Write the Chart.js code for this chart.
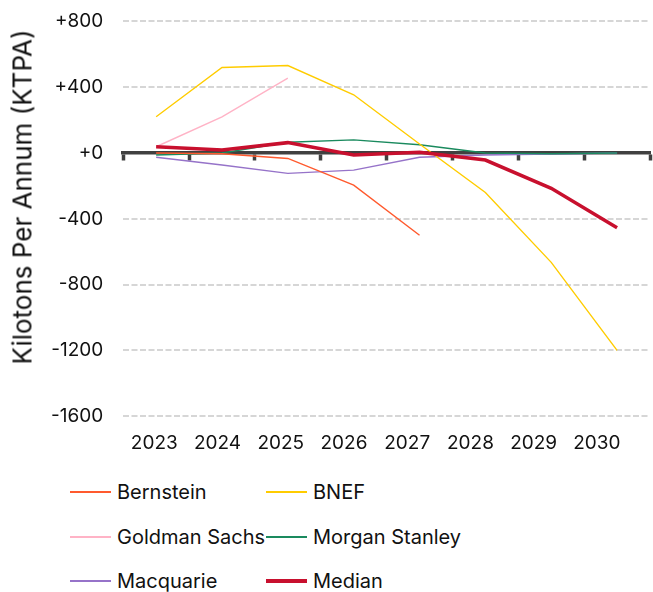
<!DOCTYPE html>
<html>
<head>
<meta charset="utf-8">
<script src="https://cdn.jsdelivr.net/npm/chart.js@4"></script>
<style>
  body { margin: 0; background: #fff; overflow: hidden; font-family: "Inter", sans-serif; }
  #wrap { position: relative; width: 653px; height: 592px; overflow: hidden; }
  #box { position: absolute; left: 0; top: -10px; width: 653px; height: 473px; }
  #ytitle {
    position: absolute; left: 22px; top: 197px;
    transform: translate(-50%, -50%) rotate(-90deg);
    font-size: 26px; color: #111; white-space: nowrap;
  }
  #legend { position: absolute; left: 70px; top: 480px; }
  .item { position: absolute; display: flex; align-items: center; white-space: nowrap; font-size: 20px; color: #111; }
  .swatch { width: 41px; margin-right: 6px; }
</style>
</head>
<body>
<div id="wrap">
  <div id="box"><canvas id="graph"></canvas></div>
  <div id="ytitle">Kilotons Per Annum (KTPA)</div>
  <div id="legend"></div>
</div>
<script>
var years = ["2023", "2024", "2025", "2026", "2027", "2028", "2029", "2030"];
var yTicks = [800, 400, 0, -400, -800, -1200, -1600];

var bernstein = [0, -5, -33, -195, -500, null, null, null];
var bnef = [220, 520, 532, 354, 55, -240, -665, -1200];
var goldman = [38, 220, 455, null, null, null, null, null];
var morgan = [-12, 0, 65, 80, 50, 0, -5, 0];
var macquarie = [-26, -73, -124, -104, -26, -12, -6, 0];
var median = [38, 18, 63, -12, 4, -43, -215, -455];

var names = ["Bernstein", "BNEF", "Goldman Sachs", "Morgan Stanley", "Macquarie", "Median"];
var colors = ["#ff5a2e", "#ffcc00", "#ffb3c6", "#1a8a5e", "#9673c9", "#c8102e"];
var series = [bernstein, bnef, goldman, morgan, macquarie, median];

var datasets = series.map(function (s, i) {
  var isMedian = names[i] === "Median";
  return {
    label: names[i],
    data: s,
    borderColor: colors[i],
    backgroundColor: colors[i],
    borderWidth: isMedian ? 3.5 : 1.4,
    pointRadius: 0,
    tension: 0,
    order: isMedian ? -1 : i,
  };
});

Chart.defaults.font.family = "Inter";
Chart.defaults.color = "#111";

var ctx = document.getElementById("graph").getContext("2d");
var myChart = new Chart(ctx, {
  type: "line",
  data: { labels: years, datasets: datasets },
  options: {
    responsive: true,
    maintainAspectRatio: false,
    animation: false,
    layout: { padding: { top: 2, right: 3, left: 31, bottom: 0 } },
    plugins: { legend: { display: false }, tooltip: { enabled: false } },
    scales: {
      x: {
        type: "category",
        offset: true,
        position: { y: 0 },
        ticks: { display: false },
        grid: {
          offset: true,
          drawOnChartArea: false,
          drawTicks: true,
          tickLength: 6,
          tickWidth: 3.5,
          tickColor: "#404040",
        },
        border: { display: true, color: "#404040", width: 3.5 },
      },
      x2: {
        type: "linear",
        position: "bottom",
        min: -0.491,
        max: 7.84,
        afterBuildTicks: function (axis) {
          axis.ticks = years.map(function (y, i) { return { value: i }; });
        },
        ticks: {
          padding: 8,
          font: { size: 19 },
          color: "#111",
          callback: function (v) { return years[v]; },
        },
        grid: { display: false },
        border: { display: false },
      },
      y: {
        min: -1600,
        max: 800,
        afterBuildTicks: function (axis) {
          axis.ticks = yTicks.map(function (v) { return { value: v }; });
        },
        ticks: {
          padding: 20,
          font: { size: 19 },
          color: "#111",
          callback: function (v) { return v >= 0 ? "+" + v : String(v); },
        },
        grid: {
          color: "#d6d6d6",
          lineWidth: 2,
          drawTicks: false,
        },
        border: { display: false, dash: [6, 2.5] },
      },
    },
  },
});

// legend as two columns, left aligned like the original
var legendBox = document.getElementById("legend");
names.forEach(function (name, i) {
  var item = document.createElement("div");
  item.className = "item";
  item.style.left = (i % 2) * 196 + "px";
  item.style.top = Math.floor(i / 2) * 44.5 + "px";
  var sw = document.createElement("span");
  sw.className = "swatch";
  sw.style.borderTop = (name === "Median" ? 4 : 2) + "px solid " + colors[i];
  item.appendChild(sw);
  item.appendChild(document.createTextNode(name));
  legendBox.appendChild(item);
});
</script>
</body>
</html>
